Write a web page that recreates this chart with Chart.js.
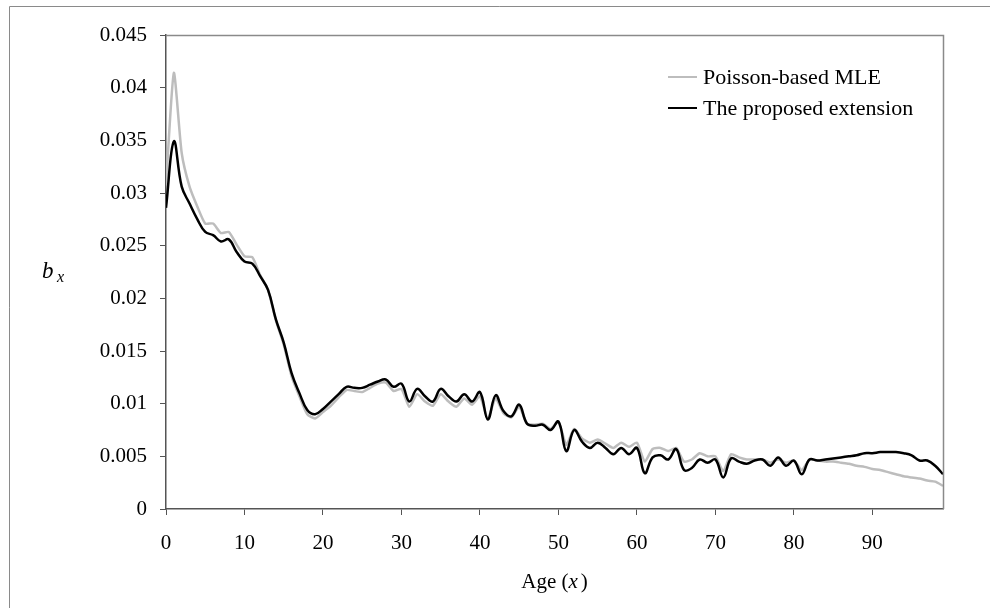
<!DOCTYPE html>
<html>
<head>
<meta charset="utf-8">
<script src="https://cdn.jsdelivr.net/npm/chart.js@4.4.1/dist/chart.umd.min.js"></script>
<style>
  html, body { margin: 0; padding: 0; background: #fff; }
  #wrap { width: 990px; height: 608px; position: relative; }
</style>
</head>
<body>
<div id="wrap"><canvas id="bxChart" width="990" height="608"></canvas></div>
<script>
"use strict";

// ages 0..99
const ages = Array.from({ length: 100 }, (_, i) => i);

const poissonMLE = [
  0.0307, 0.0414, 0.0338, 0.0306, 0.0287, 0.0271, 0.0271, 0.0262, 0.0263, 0.0251,
  0.0240, 0.0239, 0.0222, 0.0208, 0.0179, 0.0156, 0.0126, 0.0107, 0.0090, 0.0086,
  0.0092, 0.0098, 0.0106, 0.0113, 0.0112, 0.0111, 0.0115, 0.0119, 0.0120, 0.0112,
  0.0114, 0.0097, 0.0109, 0.0102, 0.0098, 0.0109, 0.0102, 0.0097, 0.0105, 0.0099,
  0.0107, 0.0086, 0.0105, 0.0091, 0.0087, 0.0097, 0.0081, 0.0080, 0.0081, 0.0076,
  0.0083, 0.0061, 0.0076, 0.0067, 0.0063, 0.0066, 0.0062, 0.0058, 0.0063, 0.0059,
  0.0063, 0.0045, 0.0057, 0.0058, 0.0055, 0.0058, 0.0045, 0.0047, 0.0053, 0.0050,
  0.0050, 0.0036, 0.0052, 0.0049, 0.0047, 0.0047, 0.0047, 0.0044, 0.0047, 0.0044,
  0.0046, 0.0037, 0.0047, 0.0046, 0.0045, 0.0045, 0.0044, 0.0043, 0.0041, 0.0040,
  0.0038, 0.0037, 0.0035, 0.0033, 0.0031, 0.0030, 0.0029, 0.0027, 0.0026, 0.0022
];

const proposedExt = [
  0.0286, 0.0349, 0.0306, 0.0290, 0.0275, 0.0263, 0.0260, 0.0254, 0.0256, 0.0244,
  0.0235, 0.0233, 0.0221, 0.0208, 0.0180, 0.0158, 0.0129, 0.0110, 0.0094, 0.0090,
  0.0095, 0.0102, 0.0109, 0.0116, 0.0115, 0.0115, 0.0118, 0.0121, 0.0123, 0.0116,
  0.0119, 0.0102, 0.0114, 0.0107, 0.0102, 0.0114, 0.0107, 0.0102, 0.0109, 0.0102,
  0.0111, 0.0085, 0.0108, 0.0093, 0.0088, 0.0099, 0.0081, 0.0079, 0.0080, 0.0075,
  0.0083, 0.0055, 0.0075, 0.0064, 0.0058, 0.0063, 0.0058, 0.0052, 0.0058, 0.0052,
  0.0058, 0.0034, 0.0049, 0.0051, 0.0047, 0.0057, 0.0037, 0.0039, 0.0047, 0.0044,
  0.0047, 0.0030, 0.0048, 0.0045, 0.0043, 0.0046, 0.0047, 0.0041, 0.0049, 0.0041,
  0.0046, 0.0033, 0.0047, 0.0046, 0.0047, 0.0048, 0.0049, 0.0050, 0.0051, 0.0053,
  0.0053, 0.0054, 0.0054, 0.0054, 0.0053, 0.0051, 0.0046, 0.0046, 0.0041, 0.0033
];

const xTicks = [0, 10, 20, 30, 40, 50, 60, 70, 80, 90];
const yTicks = [0, 0.005, 0.01, 0.015, 0.02, 0.025, 0.03, 0.035, 0.04, 0.045];

const seriesNames = ['Poisson-based MLE', 'The proposed extension'];

const SERIF = "'Times New Roman', 'Liberation Serif', serif";

function toPoints(vals) {
  return vals.map((v, i) => ({ x: ages[i], y: v }));
}

// frame, plot box, legend and axis titles
const decorations = {
  id: 'decorations',
  beforeDraw(chart) {
    const ctx = chart.ctx;
    ctx.save();
    ctx.strokeStyle = '#8a8a8a';
    ctx.lineWidth = 1;
    ctx.beginPath();
    ctx.moveTo(9.5, 608);
    ctx.lineTo(9.5, 6.5);
    ctx.lineTo(990, 6.5);
    ctx.stroke();
    ctx.restore();
  },
  afterDraw(chart) {
    const ctx = chart.ctx;
    const a = chart.chartArea;
    ctx.save();
    // top and right edges of the plot box
    ctx.strokeStyle = '#8a8a8a';
    ctx.lineWidth = 1.5;
    ctx.beginPath();
    ctx.moveTo(Math.round(a.left), Math.round(a.top) + 0.5);
    ctx.lineTo(Math.round(a.right) + 0.5, Math.round(a.top) + 0.5);
    ctx.lineTo(Math.round(a.right) + 0.5, Math.round(a.bottom));
    ctx.stroke();

    // legend
    ctx.font = '22px ' + SERIF;
    ctx.textBaseline = 'middle';
    ctx.fillStyle = '#000';
    const rows = [77, 108];
    chart.data.datasets.forEach((ds, i) => {
      ctx.strokeStyle = ds.borderColor;
      ctx.lineWidth = 2;
      ctx.beginPath();
      ctx.moveTo(668, rows[i]);
      ctx.lineTo(697, rows[i]);
      ctx.stroke();
      ctx.fillText(ds.label, 703, rows[i] + 1);
    });

    // x axis title: Age (x)
    ctx.textBaseline = 'alphabetic';
    const y0 = 588;
    const p1 = 'Age (';
    const p2 = 'x';
    const p3 = ')';
    ctx.font = '21px ' + SERIF;
    const w1 = ctx.measureText(p1).width;
    const w3 = ctx.measureText(p3).width;
    ctx.font = 'italic 21px ' + SERIF;
    const w2 = ctx.measureText(p2).width + 3;
    let x = (a.left + a.right) / 2 - (w1 + w2 + w3) / 2;
    ctx.font = '21px ' + SERIF;
    ctx.fillText(p1, x, y0);
    x += w1;
    ctx.font = 'italic 21px ' + SERIF;
    ctx.fillText(p2, x, y0);
    x += w2;
    ctx.font = '21px ' + SERIF;
    ctx.fillText(p3, x, y0);

    // y axis title: b with subscript x
    ctx.font = 'italic 23px ' + SERIF;
    ctx.fillText('b', 42, 278);
    ctx.font = 'italic 16px ' + SERIF;
    ctx.fillText('x', 57, 282);
    ctx.restore();
  }
};

const ctx = document.getElementById('bxChart').getContext('2d');
const chart = new Chart(ctx, {
  type: 'line',
  data: {
    datasets: [
      {
        label: seriesNames[0],
        data: toPoints(poissonMLE),
        borderColor: '#bdbdbd',
        borderWidth: 2.5,
        pointRadius: 0,
        tension: 0.2,
        order: 2
      },
      {
        label: seriesNames[1],
        data: toPoints(proposedExt),
        borderColor: '#000000',
        borderWidth: 2.5,
        pointRadius: 0,
        tension: 0.4,
        order: 1
      }
    ]
  },
  options: {
    responsive: false,
    animation: false,
    layout: { padding: { left: 0, top: 35, right: 47, bottom: 0 } },
    plugins: {
      legend: { display: false },
      tooltip: { enabled: false }
    },
    scales: {
      x: {
        type: 'linear',
        min: 0,
        max: 99,
        afterBuildTicks(scale) {
          scale.ticks = xTicks.map(v => ({ value: v }));
        },
        afterFit(scale) { scale.height = 99; },
        grid: { drawOnChartArea: false, tickLength: 6, color: '#555', tickWidth: 1 },
        border: { color: '#555', width: 1.5 },
        ticks: {
          font: { family: SERIF, size: 21 },
          color: '#000',
          padding: 16,
          maxRotation: 0,
          autoSkip: false
        }
      },
      y: {
        min: 0,
        max: 0.045,
        afterBuildTicks(scale) {
          scale.ticks = yTicks.map(v => ({ value: v }));
        },
        afterFit(scale) { scale.width = 166; },
        grid: { drawOnChartArea: false, tickLength: 6, color: '#555', tickWidth: 1 },
        border: { color: '#555', width: 1.5 },
        ticks: {
          font: { family: SERIF, size: 21 },
          color: '#000',
          padding: 13,
          callback: v => String(Number(v.toFixed(3)))
        }
      }
    }
  },
  plugins: [decorations]
});
</script>
</body>
</html>
